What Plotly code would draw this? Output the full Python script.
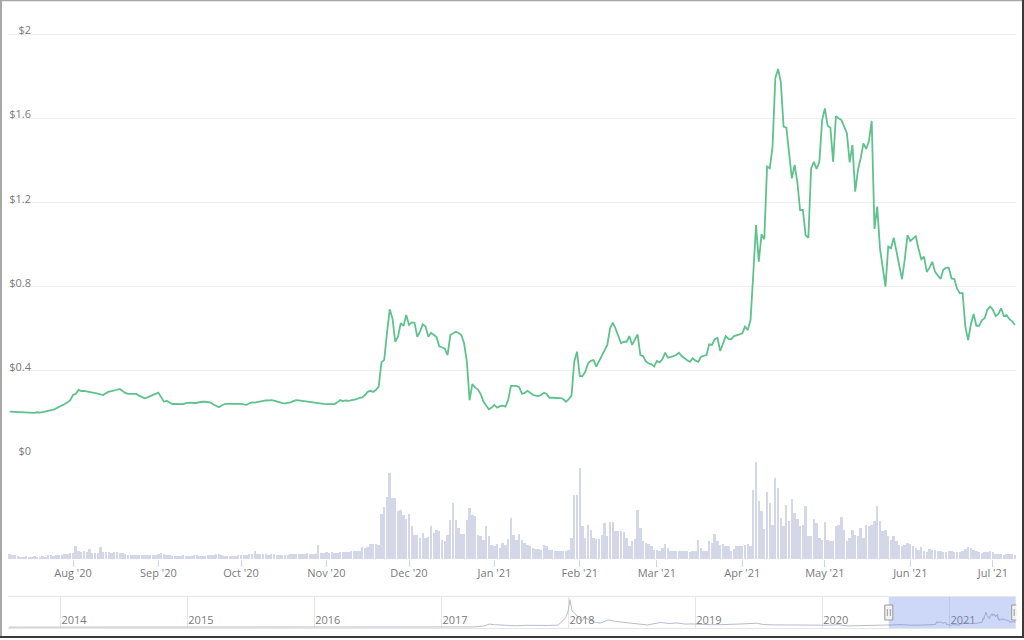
import plotly.graph_objects as go
import pandas as pd

# ---------------- data ----------------
start_date = "2020-07-09"
price = [
    0.206, 0.205, 0.204, 0.204, 0.203, 0.201, 0.200, 0.199, 0.198, 0.200,
    0.203, 0.201, 0.204, 0.206, 0.208, 0.213, 0.216, 0.222, 0.228, 0.236,
    0.242, 0.250, 0.260, 0.285, 0.290, 0.309, 0.304, 0.305, 0.303, 0.300,
    0.297, 0.294, 0.292, 0.288, 0.285, 0.294, 0.301, 0.303, 0.305, 0.310,
    0.314, 0.303, 0.295, 0.290, 0.291, 0.289, 0.290, 0.282, 0.276, 0.269,
    0.274, 0.280, 0.285, 0.290, 0.296, 0.275, 0.253, 0.258, 0.248, 0.242,
    0.243, 0.242, 0.244, 0.242, 0.246, 0.248, 0.249, 0.246, 0.249, 0.252,
    0.253, 0.253, 0.251, 0.249, 0.240, 0.232, 0.227, 0.235, 0.242, 0.243,
    0.243, 0.244, 0.245, 0.246, 0.243, 0.240, 0.238, 0.246, 0.250, 0.249,
    0.252, 0.255, 0.258, 0.259, 0.260, 0.261, 0.258, 0.253, 0.248, 0.246,
    0.245, 0.247, 0.250, 0.256, 0.261, 0.260, 0.258, 0.255, 0.254, 0.253,
    0.250, 0.247, 0.244, 0.242, 0.243, 0.242, 0.241, 0.240, 0.242, 0.250,
    0.261, 0.256, 0.259, 0.257, 0.260, 0.261, 0.265, 0.272, 0.274, 0.285,
    0.300, 0.305, 0.300, 0.310, 0.325, 0.440, 0.452, 0.580, 0.692, 0.649,
    0.538, 0.562, 0.626, 0.613, 0.665, 0.618, 0.630, 0.628, 0.562, 0.586,
    0.621, 0.610, 0.562, 0.581, 0.570, 0.560, 0.515, 0.512, 0.505, 0.475,
    0.570, 0.580, 0.586, 0.580, 0.570, 0.531, 0.443, 0.261, 0.337, 0.320,
    0.312, 0.290, 0.255, 0.235, 0.217, 0.225, 0.238, 0.225, 0.232, 0.234,
    0.230, 0.261, 0.328, 0.328, 0.328, 0.322, 0.290, 0.295, 0.305, 0.296,
    0.285, 0.282, 0.280, 0.285, 0.296, 0.290, 0.272, 0.272, 0.272, 0.272,
    0.270, 0.266, 0.253, 0.265, 0.282, 0.443, 0.491, 0.375, 0.375, 0.395,
    0.435, 0.447, 0.451, 0.420, 0.445, 0.470, 0.495, 0.523, 0.602, 0.629,
    0.600, 0.560, 0.531, 0.538, 0.538, 0.565, 0.523, 0.548, 0.573, 0.475,
    0.470, 0.445, 0.435, 0.432, 0.420, 0.447, 0.440, 0.455, 0.486, 0.462,
    0.465, 0.470, 0.475, 0.486, 0.470, 0.459, 0.450, 0.443, 0.459, 0.448,
    0.443, 0.467, 0.472, 0.475, 0.526, 0.523, 0.550, 0.557, 0.494, 0.525,
    0.565, 0.552, 0.550, 0.565, 0.568, 0.573, 0.578, 0.610, 0.594, 0.641,
    0.860, 1.093, 0.918, 1.048, 1.025, 1.370, 1.362, 1.465, 1.790, 1.834,
    1.773, 1.560, 1.555, 1.441, 1.314, 1.378, 1.298, 1.164, 1.164, 1.045,
    1.032, 1.362, 1.393, 1.359, 1.393, 1.591, 1.647, 1.564, 1.555, 1.393,
    1.610, 1.600, 1.591, 1.560, 1.528, 1.390, 1.473, 1.251, 1.354, 1.410,
    1.481, 1.454, 1.492, 1.587, 1.074, 1.180, 0.982, 0.890, 0.800, 0.990,
    0.982, 1.032, 0.960, 0.900, 0.835, 0.930, 1.045, 1.017, 1.030, 1.040,
    0.980, 0.930, 0.942, 0.870, 0.890, 0.918, 0.870, 0.855, 0.836, 0.880,
    0.890, 0.890, 0.839, 0.836, 0.790, 0.768, 0.770, 0.610, 0.546, 0.620,
    0.670, 0.614, 0.614, 0.640, 0.650, 0.690, 0.705, 0.690, 0.660, 0.670,
    0.697, 0.660, 0.665, 0.645, 0.635, 0.618,
]

# daily traded volume (relative units)
volume = [
    5, 4, 4, 3, 2, 2, 3, 2, 2, 3,
    2, 2, 3, 2, 4, 4, 3, 4, 4, 4,
    5, 5, 6, 6, 13, 8, 7, 8, 7, 10,
    6, 6, 6, 12, 7, 7, 7, 6, 7, 7,
    6, 6, 5, 4, 4, 4, 4, 4, 4, 4,
    4, 4, 4, 4, 5, 6, 5, 4, 4, 3,
    3, 3, 3, 4, 3, 3, 3, 4, 4, 3,
    3, 3, 4, 4, 4, 5, 5, 4, 3, 3,
    3, 3, 3, 4, 4, 4, 4, 5, 5, 8,
    5, 5, 5, 5, 4, 5, 5, 4, 4, 4,
    4, 4, 5, 5, 5, 5, 5, 5, 6, 5,
    5, 5, 14, 6, 6, 7, 6, 7, 6, 6,
    7, 7, 7, 7, 8, 8, 8, 8, 12, 11,
    12, 15, 15, 15, 14, 45, 52, 62, 86, 61,
    61, 48, 49, 44, 40, 45, 33, 24, 24, 21,
    26, 21, 22, 33, 26, 29, 28, 19, 18, 24,
    39, 56, 39, 31, 25, 25, 39, 51, 44, 43,
    24, 23, 19, 33, 23, 14, 13, 15, 11, 16,
    14, 20, 41, 24, 19, 25, 19, 16, 14, 13,
    11, 10, 10, 9, 14, 13, 9, 9, 8, 8,
    8, 8, 8, 9, 21, 64, 64, 91, 33, 21,
    34, 29, 21, 20, 20, 24, 36, 23, 37, 37,
    28, 28, 28, 27, 21, 13, 18, 20, 49, 31,
    18, 16, 15, 13, 9, 9, 8, 11, 15, 11,
    8, 8, 8, 8, 8, 8, 8, 7, 8, 8,
    19, 11, 8, 8, 18, 16, 25, 18, 14, 15,
    13, 13, 8, 10, 13, 13, 13, 14, 15, 13,
    69, 97, 58, 48, 30, 67, 56, 34, 81, 71,
    41, 33, 54, 38, 60, 46, 40, 33, 34, 53,
    23, 23, 40, 36, 21, 19, 37, 19, 18, 18,
    33, 34, 42, 29, 18, 21, 29, 24, 23, 31,
    21, 34, 33, 34, 38, 53, 38, 28, 29, 23,
    19, 23, 18, 14, 13, 14, 16, 15, 13, 11,
    9, 12, 8, 7, 10, 9, 9, 8, 8, 7,
    7, 8, 8, 7, 7, 7, 8, 10, 12, 11,
    9, 8, 7, 6, 7, 7, 8, 7, 5, 5,
    5, 4, 5, 5, 5, 4,
]

# long-history (navigator) price before the daily window
nav_hist_dates = [
    "2013-08-04", "2013-11-01", "2013-12-20", "2014-02-01", "2014-05-15",
    "2014-12-20", "2015-03-01", "2015-06-01", "2015-09-01", "2015-12-01",
    "2016-03-01", "2016-06-01", "2016-09-01", "2016-12-01", "2017-03-01",
    "2017-04-01", "2017-05-01", "2017-05-17", "2017-06-01", "2017-07-01",
    "2017-08-01", "2017-09-01", "2017-10-01", "2017-11-01", "2017-12-01",
    "2017-12-15", "2017-12-22", "2017-12-30", "2018-01-04", "2018-01-10",
    "2018-01-20", "2018-02-06", "2018-02-15", "2018-03-01", "2018-03-18",
    "2018-04-01", "2018-04-25", "2018-05-15", "2018-06-01", "2018-07-01",
    "2018-08-15", "2018-09-21", "2018-10-15", "2018-11-07", "2018-12-01",
    "2018-12-20", "2019-01-15", "2019-02-15", "2019-03-15", "2019-04-15",
    "2019-05-15", "2019-06-25", "2019-07-15", "2019-08-15", "2019-09-15",
    "2019-10-15", "2019-11-15", "2019-12-15", "2020-01-15", "2020-02-15",
    "2020-03-13", "2020-04-15", "2020-05-15", "2020-06-15",
]
nav_hist_price = [
    0.005, 0.010, 0.030, 0.020, 0.005,
    0.025, 0.012, 0.010, 0.007, 0.006,
    0.008, 0.006, 0.007, 0.006, 0.006,
    0.030, 0.150, 0.380, 0.300, 0.250,
    0.170, 0.230, 0.200, 0.210, 0.250,
    0.800, 1.100, 2.000, 3.380, 2.000,
    1.600, 0.700, 1.150, 0.900, 0.600,
    0.500, 0.900, 0.700, 0.620, 0.470,
    0.270, 0.580, 0.450, 0.520, 0.380,
    0.400, 0.320, 0.300, 0.310, 0.330,
    0.400, 0.480, 0.320, 0.280, 0.260,
    0.290, 0.270, 0.190, 0.240, 0.300,
    0.150, 0.190, 0.200, 0.190,
]

# ---------------- derived ----------------
dates = pd.date_range(start_date, periods=len(price), freq="D")
nav_x = list(pd.to_datetime(nav_hist_dates)) + list(dates)
nav_y = nav_hist_price + price

W, H = 1024, 640
def py(p):  # pixel row -> paper fraction
    return 1 - p / H
def px(p):
    return p / W

FONT = "Open Sans, Liberation Sans, Arial, sans-serif"
LABEL = "#7a7a7a"
GREEN = "#5fc28e"

fig = go.Figure()

fig.add_trace(go.Bar(
    x=dates, y=volume, xaxis="x", yaxis="y2",
    marker=dict(color="#d3d7e7", line=dict(width=0)),
    width=86400000 * 0.88, hoverinfo="skip", showlegend=False,
))
fig.add_trace(go.Scatter(
    x=dates, y=price, xaxis="x", yaxis="y", mode="lines",
    line=dict(color=GREEN, width=1.8), showlegend=False,
))
fig.add_trace(go.Scatter(
    x=nav_x, y=nav_y, xaxis="x2", yaxis="y3", mode="lines",
    line=dict(color="#b5bccb", width=1), showlegend=False, hoverinfo="skip",
))

x_dom = [px(8.05), px(1016.3)]
x_range = ["2020-07-08 10:00", "2021-07-09 12:00"]

shapes = []
nav_top, nav_bot = py(597), py(628)
# navigator selection mask
shapes.append(dict(type="rect", xref="x2", yref="paper",
                   x0=dates[0], x1=dates[-1], y0=nav_bot, y1=nav_top,
                   fillcolor="rgba(102,133,230,0.33)", line=dict(width=0), layer="above"))
for d in (dates[0], dates[-1]):
    shapes.append(dict(type="rect", xref="x2", yref="paper", xsizemode="pixel", ysizemode="pixel",
                       xanchor=d, yanchor=py(612.5), x0=-4, x1=4, y0=-7.5, y1=7.5,
                       fillcolor="#f2f2f2", line=dict(color="#999999", width=1), layer="above"))
    for dx in (-1.5, 1.5):
        shapes.append(dict(type="line", xref="x2", yref="paper", xsizemode="pixel", ysizemode="pixel",
                           xanchor=d, yanchor=py(612.5), x0=dx, x1=dx, y0=-3.5, y1=3.5,
                           line=dict(color="#999999", width=1), layer="above"))
# outer frame of the screenshot
shapes += [
    dict(type="line", xref="paper", yref="paper", x0=px(1), x1=px(1), y0=py(637), y1=py(0),
         line=dict(color="#a8a8a8", width=2)),
    dict(type="line", xref="paper", yref="paper", x0=0, x1=1, y0=py(0.5), y1=py(0.5),
         line=dict(color="#a8a8a8", width=1.5)),
    dict(type="line", xref="paper", yref="paper", x0=0, x1=1, y0=py(637), y1=py(637),
         line=dict(color="#3a3a3a", width=2)),
    dict(type="line", xref="paper", yref="paper", x0=px(1023), x1=px(1023), y0=py(637), y1=py(0),
         line=dict(color="#3a3a3a", width=2)),
]

fig.update_layout(
    width=W, height=H, margin=dict(l=0, r=0, t=0, b=0, autoexpand=False),
    paper_bgcolor="white", plot_bgcolor="white",
    font=dict(family=FONT, size=11, color=LABEL),
    bargap=0, hovermode="x",
    xaxis=dict(domain=x_dom, range=x_range, anchor="y2", type="date", automargin=False,
               tick0="2020-08-01", dtick="M1", tickformat="%b '%y",
               ticks="outside", ticklen=7, tickcolor="#ccd6eb", tickwidth=1,
               ticklabelstandoff=-3,
               showgrid=False, showline=False, zeroline=False,
               tickfont=dict(family=FONT, size=11, color=LABEL)),
    yaxis=dict(domain=[py(455), py(13)], range=[0, 2.1], anchor="x", automargin=False,
               tick0=0, dtick=0.4, showticklabels=False,
               showgrid=True, gridcolor="#f0f0f0", gridwidth=1, zeroline=False),
    yaxis4=dict(range=[0, 2.1], overlaying="y", anchor="free", automargin=False,
                position=px(31), side="left", tick0=0, dtick=0.4, tickprefix="$",
                ticklabelposition="outside top", ticklabelshift=4, ticks="",
                showgrid=False, zeroline=False,
                showline=False, tickfont=dict(family=FONT, size=11, color=LABEL)),
    yaxis2=dict(domain=[py(559), py(455)], range=[0, 104], anchor="x", automargin=False,
                showticklabels=False, showgrid=False, zeroline=False),
    xaxis2=dict(domain=x_dom, range=["2013-08-02", "2021-07-10 17:00"], anchor="y3", type="date",
                automargin=False,
                tick0="2014-01-01", dtick="M12", tickformat="%Y",
                ticklabelposition="inside right", ticks="", ticklabelstandoff=-2,
                showgrid=True, gridcolor="#e6e6e6", gridwidth=1,
                showline=True, mirror=True, linecolor="#e6e6e6", linewidth=1,
                tickfont=dict(family=FONT, size=11, color=LABEL)),
    yaxis3=dict(domain=[nav_bot, nav_top], range=[-0.1, 3.69], anchor="x2", automargin=False,
                showticklabels=False, showgrid=False, zeroline=False),
    shapes=shapes,
)
# dummy trace so the label axis renders
fig.add_trace(go.Scatter(x=[dates[0]], y=[None], xaxis="x", yaxis="y4", showlegend=False, hoverinfo="skip"))

fig.write_html("out.html")
